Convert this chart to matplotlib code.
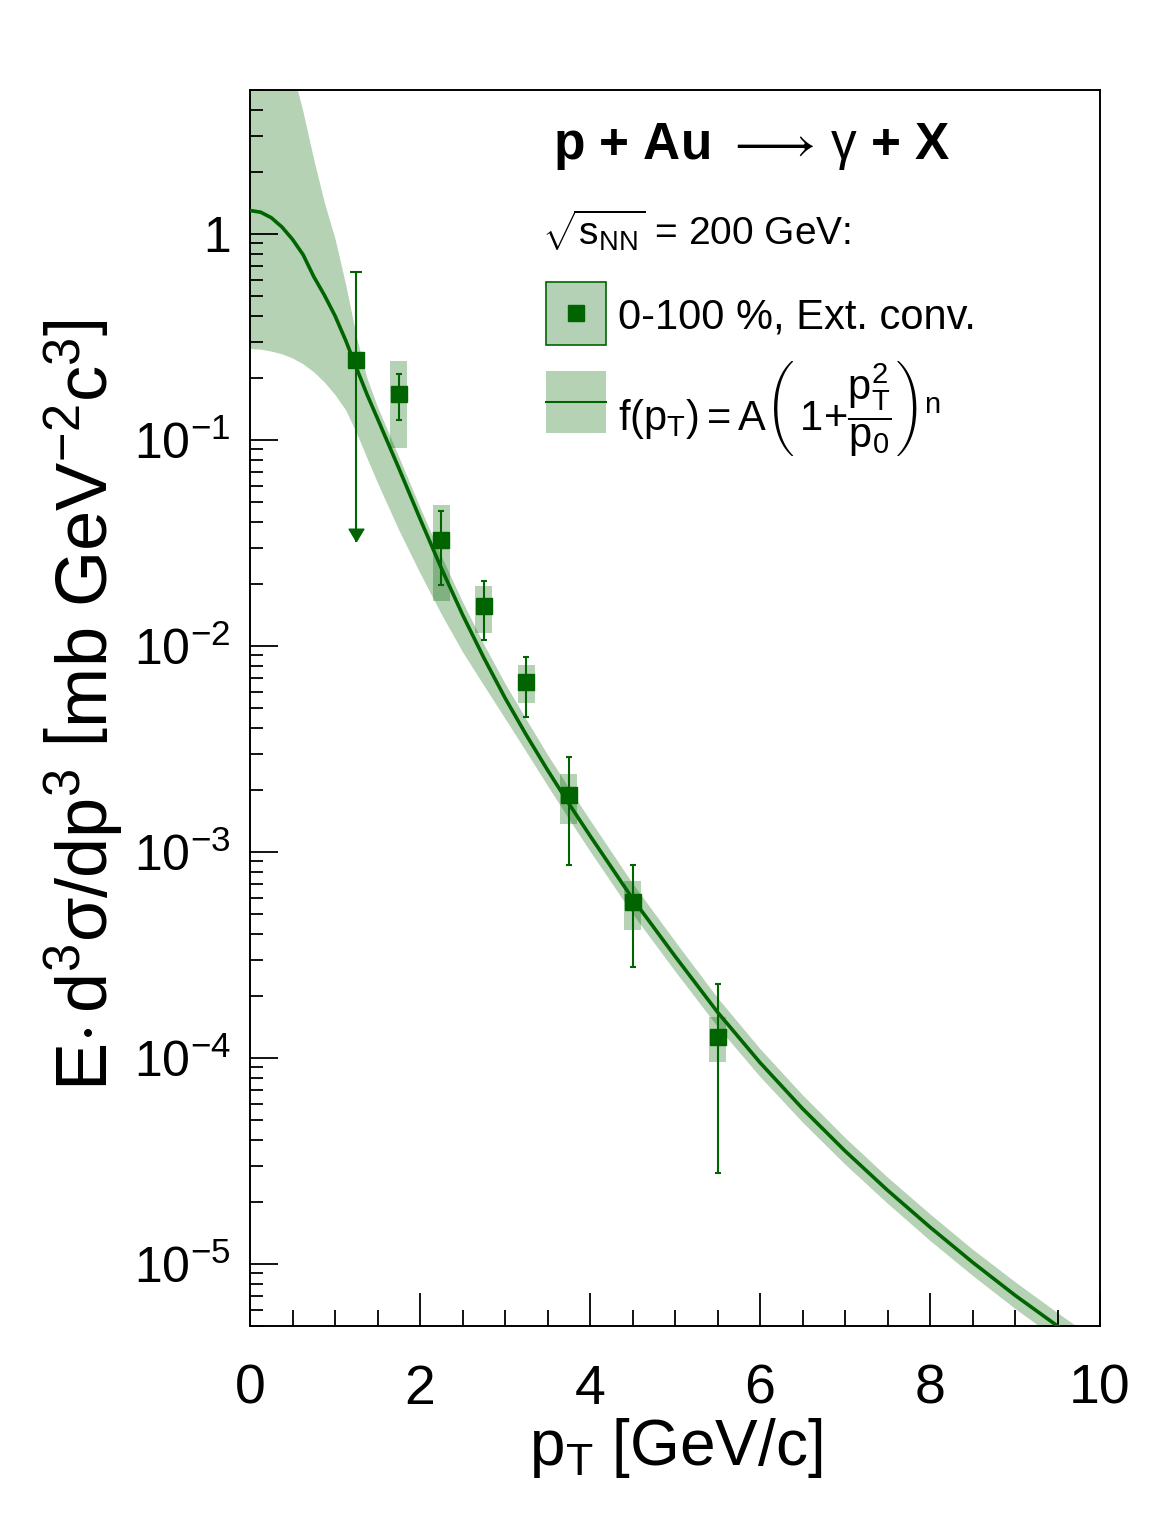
import numpy as np
import matplotlib
matplotlib.use("Agg")
import matplotlib.pyplot as plt
from matplotlib.patches import Rectangle
from matplotlib.lines import Line2D
from matplotlib.ticker import LogLocator, NullFormatter, MultipleLocator

plt.rcParams["font.family"] = ["Liberation Sans", "DejaVu Sans"]
plt.rcParams["mathtext.fontset"] = "custom"
plt.rcParams["mathtext.rm"] = "Liberation Sans"
plt.rcParams["mathtext.it"] = "Liberation Sans:italic"
plt.rcParams["mathtext.bf"] = "Liberation Sans:bold"
plt.rcParams["mathtext.sf"] = "Liberation Sans"

GREEN = "#006400"
BAND_ALPHA = 0.29

# measured points (0-100 %, external conversions)
pt = [1.25, 1.75, 2.25, 2.75, 3.25, 3.75, 4.5, 5.5]
yld = [0.245, 0.167, 0.0327, 0.0157, 0.00666, 0.00189, 5.69e-4, 1.27e-4]
stat_hi = [0.656, 0.209, 0.0454, 0.0206, 0.00887, 0.0029, 8.65e-4, 2.29e-4]
stat_lo = [0.0324, 0.125, 0.0198, 0.0107, 0.0045, 8.65e-4, 2.77e-4, 2.75e-5]
sys_hi = [np.nan, 0.241, 0.0485, 0.0196, 0.00809, 0.00239, 7.2e-4, 1.59e-4]
sys_lo = [np.nan, 0.0914, 0.0166, 0.0116, 0.00527, 0.00137, 4.18e-4, 9.6e-5]

# fit curve and its uncertainty band
fit_pt = [0.0, 0.125, 0.25, 0.375, 0.5, 0.625, 0.75, 0.875, 1.0, 1.125, 1.25,
          1.375, 1.5, 1.75, 2.0, 2.25, 2.5, 2.75, 3.0, 3.25, 3.5, 3.75, 4.0,
          4.5, 5.0, 5.5, 6.0, 6.5, 7.0, 7.5, 8.0, 8.5, 9.0, 9.5, 10.0]
fit_val = [1.30, 1.276, 1.200, 1.082, 0.942, 0.793, 0.621, 0.505, 0.401,
           0.305, 0.225, 0.167, 0.127, 0.0731, 0.0415, 0.0239, 0.0142,
           0.00878, 0.00560, 0.00370, 0.00250, 0.00172, 0.00120, 5.94e-4,
           3.12e-4, 1.67e-4, 9.5e-5, 5.68e-5, 3.54e-5, 2.28e-5, 1.51e-5,
           1.02e-5, 7.05e-6, 5.0e-6, 3.58e-6]
band_hi = [20.0, 17.0, 13.5, 9.5, 6.2, 3.9, 2.3, 1.42, 0.95, 0.57, 0.32,
           0.2, 0.145, 0.083, 0.0471, 0.0273, 0.0164, 0.0102, 0.00658,
           0.0044, 0.00297, 0.00205, 0.00143, 7.04e-4, 3.69e-4, 1.96e-4,
           1.11e-4, 6.62e-5, 4.11e-5, 2.64e-5, 1.75e-5, 1.18e-5, 8.2e-6,
           5.8e-6, 4.15e-6]
band_lo = [0.278, 0.276, 0.270, 0.262, 0.250, 0.234, 0.214, 0.191, 0.166,
           0.140, 0.109, 0.082, 0.062, 0.0366, 0.0226, 0.0143, 0.00937,
           0.00644, 0.00445, 0.00306, 0.0021, 0.00145, 0.00101, 5.01e-4,
           2.64e-4, 1.42e-4, 8.12e-5, 4.88e-5, 3.05e-5, 1.97e-5, 1.30e-5,
           8.8e-6, 6.08e-6, 4.31e-6, 3.09e-6]

y_ticks = [1e-5, 1e-4, 1e-3, 1e-2, 1e-1, 1.0]
y_tick_labels = [r"$10^{-5}$", r"$10^{-4}$", r"$10^{-3}$", r"$10^{-2}$", r"$10^{-1}$", "1"]
x_ticks = [0, 2, 4, 6, 8, 10]

W, H = 1169, 1536
fig = plt.figure(figsize=(W / 100, H / 100), dpi=100)
ax = fig.add_axes([250 / W, 1 - 1326 / H, 850 / W, 1236 / H])


def px(x, y):
    return x / W, 1 - y / H


ax.set_yscale("log")
ax.set_xlim(0, 10)
ax.set_ylim(5e-6, 5.0)

ax.fill_between(fit_pt, band_lo, band_hi, color=GREEN, alpha=BAND_ALPHA, lw=0, zorder=1)
ax.plot(fit_pt, fit_val, color=GREEN, lw=2.6, zorder=3)

# systematic boxes
s_hi = np.array(sys_hi)
s_lo = np.array(sys_lo)
ok = ~np.isnan(s_hi)
ax.bar(np.array(pt)[ok], (s_hi - s_lo)[ok], bottom=s_lo[ok], width=0.2,
       color=GREEN, alpha=BAND_ALPHA, lw=0, zorder=2)

# statistical errors
y = np.array(yld)
hi = np.array(stat_hi)
lo = np.array(stat_lo)
ax.errorbar(pt[1:], y[1:], yerr=[y[1:] - lo[1:], hi[1:] - y[1:]], fmt="none",
            ecolor=GREEN, elinewidth=1.5, capsize=2.5, capthick=1.5, zorder=4)
# first point: upper cap and arrow down to the lower end
ax.errorbar(pt[:1], y[:1], yerr=[[0], hi[:1] - y[:1]], fmt="none",
            ecolor=GREEN, elinewidth=1.5, capsize=4.5, capthick=1.5, zorder=4)
ax.plot([pt[0], pt[0]], [y[0], lo[0]], color=GREEN, lw=1.5, zorder=4)
arrow = [(0, 0), (-0.6, 1), (0.6, 1), (0, 0)]
ax.plot(pt[:1], lo[:1], marker=arrow, ms=17.7, color=GREEN, lw=0, zorder=4)

ax.plot(pt, yld, "s", color=GREEN, ms=11.3, zorder=5)

# axes styling
ax.set_xticks(x_ticks)
ax.set_xticklabels([str(t) for t in x_ticks])
ax.xaxis.set_minor_locator(MultipleLocator(0.5))
ax.set_yticks(y_ticks)
ax.set_yticklabels(y_tick_labels)
ax.yaxis.set_minor_locator(LogLocator(base=10, subs=np.arange(2, 10)))
ax.yaxis.set_minor_formatter(NullFormatter())
ax.tick_params(axis="x", which="major", direction="in", length=24, width=1.3,
               labelsize=40, pad=27, top=False)
ax.tick_params(axis="x", which="minor", direction="in", length=11.5, width=1.3, top=False)
ax.tick_params(axis="y", which="major", direction="in", length=20, width=1.3,
               labelsize=36, pad=14, right=False)
ax.tick_params(axis="y", which="minor", direction="in", length=9.5, width=1.3, right=False)
for s in ax.spines.values():
    s.set_linewidth(1.4)

# axis titles
fig.text(*px(676, 1448), r"$\mathrm{p_{T}}$ [GeV/c]", fontsize=46,
         ha="center", va="center")
fig.text(*px(84, 705),
         r"$\mathrm{E{\cdot}\,d^{3}\sigma/dp^{3}\ \left[mb\ GeV^{-2}c^{3}\right]}$",
         fontsize=52, rotation=90, ha="center", va="center")

# legend / labels
fig.text(*px(553, 147),
         r"$\mathbf{p\ {+}\ Au}\ \longrightarrow\,\mathrm{\gamma}\ \mathbf{{+}\ X}$",
         fontsize=37, ha="left", va="center")
fig.text(*px(542, 231), r"$\sqrt{\mathrm{s_{NN}}}$ = 200 GeV:", fontsize=28,
         ha="left", va="center")

x0, y0 = px(546, 345)
fig.patches.append(Rectangle((x0, y0), 60 / W, 63 / H, transform=fig.transFigure,
                             facecolor=(0, 0.39, 0, BAND_ALPHA), edgecolor=GREEN, lw=1.2))
fig.lines.append(Line2D([576 / W], [1 - 313 / H], transform=fig.transFigure,
                        marker="s", ms=11, color=GREEN, lw=0))
fig.text(*px(618, 318), "0-100 %, Ext. conv.", fontsize=30, ha="left", va="center")

x0, y0 = px(546, 433)
fig.patches.append(Rectangle((x0, y0), 60 / W, 62 / H, transform=fig.transFigure,
                             facecolor=GREEN, alpha=BAND_ALPHA, lw=0))
fig.lines.append(Line2D([546 / W, 606 / W], [1 - 402 / H, 1 - 402 / H],
                        transform=fig.transFigure, color=GREEN, lw=1.5))
fig.text(*px(618, 408),
         r"$\mathrm{f(p_{T}){=}A\left(\,1{+}\dfrac{p_{T}^{2}}{p_{0}}\right)^{n}}$",
         fontsize=30, ha="left", va="center")

fig.savefig("out.png", dpi=100)
